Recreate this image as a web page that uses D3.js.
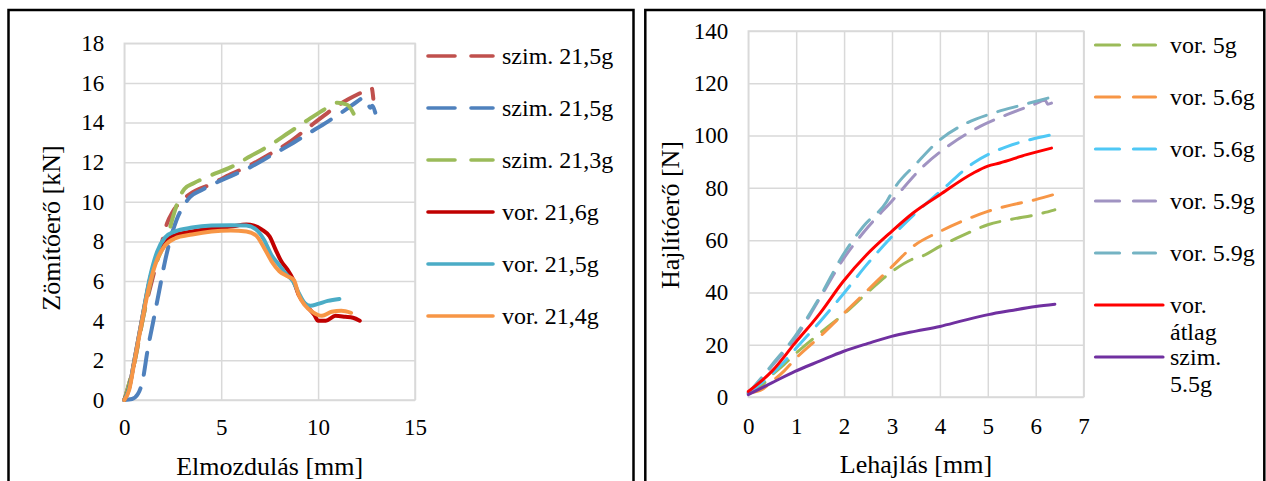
<!DOCTYPE html>
<meta charset="utf-8">
<script src="https://d3js.org/d3.v7.min.js"></script>
<style>
body { margin: 0; background: #fff; }
text { font-family: "Liberation Serif", "Times New Roman", serif; fill: #000; }
.tick text { font-size: 23px; }
.tick line { stroke: #d9d9d9; stroke-width: 1.5; }
.keret { fill: none; stroke: #000; stroke-width: 2.5; }
.plotbox { fill: none; stroke: #d9d9d9; stroke-width: 1.5; }
</style>
<body>
<svg id="canvas" width="1266" height="481" font-family="Liberation Serif"></svg>
<script>
// ---- bal oldali diagram: zomitoero ----------------------------------
var szimPiros = [[0,0],[0.5,1.8],[1.0,4.3],[1.5,6.3],[1.9,7.8],[2.2,8.9],[2.5,9.5],[2.9,10.0],[3.4,10.4],[4.5,10.9],[5.5,11.4],[6.5,11.85],[7.5,12.4],[8.5,13.0],[9.5,13.75],[10.3,14.35],[11.0,14.85],[11.6,15.2],[12.2,15.5],[12.76,15.75],[12.85,15.2]];
var szimKek = [[0,0],[0.4,0.05],[0.7,0.3],[0.95,1.0],[1.2,2.5],[1.5,4.0],[1.8,5.5],[2.1,7.0],[2.4,8.2],[2.7,9.1],[3.0,9.7],[3.4,10.25],[4.0,10.6],[4.7,10.95],[5.5,11.3],[6.5,11.75],[7.5,12.3],[8.5,12.85],[9.5,13.45],[10.5,14.05],[11.5,14.7],[12.0,15.05],[12.35,15.25],[12.55,15.0],[12.7,14.75],[12.8,14.85],[12.95,14.5]];
var szimZold = [[0,0],[0.5,1.8],[1.0,4.3],[1.5,6.5],[1.9,7.5],[2.2,8.1],[2.5,9.2],[2.8,10.1],[3.1,10.65],[3.6,10.95],[4.5,11.35],[5.5,11.75],[6.5,12.3],[7.5,12.85],[8.5,13.5],[9.5,14.15],[10.3,14.65],[11.0,15.0],[11.5,14.9],[11.75,14.6],[11.95,14.2]];
var vor216 = [[0,0],[0.25,0.6],[0.5,1.9],[0.9,4],[1.3,6],[1.7,7.3],[2.1,8.0],[2.6,8.3],[3.5,8.5],[4.5,8.65],[5.5,8.75],[6.3,8.85],[6.7,8.8],[7.1,8.6],[7.5,8.25],[7.8,7.6],[8.1,7.0],[8.4,6.6],[8.7,6.1],[9.0,5.3],[9.4,4.75],[9.8,4.3],[10.0,4.0],[10.4,4.0],[10.9,4.25],[11.4,4.2],[11.8,4.15],[12.15,4.0]];
var vor215 = [[0,0],[0.25,0.6],[0.5,1.9],[0.9,4],[1.3,6.1],[1.7,7.5],[2.1,8.2],[2.6,8.5],[3.5,8.7],[4.5,8.8],[5.5,8.82],[6.3,8.8],[6.8,8.6],[7.2,8.1],[7.6,7.3],[8.0,6.8],[8.4,6.3],[8.7,6.0],[9.0,5.4],[9.3,4.9],[9.6,4.75],[10.0,4.85],[10.5,5.0],[11.1,5.1]];
var vor214 = [[0,0],[0.25,0.5],[0.5,1.8],[0.9,3.9],[1.3,5.8],[1.7,7.1],[2.1,7.8],[2.6,8.15],[3.5,8.35],[4.5,8.5],[5.5,8.55],[6.3,8.5],[6.8,8.3],[7.2,7.7],[7.6,7.0],[8.0,6.5],[8.4,6.25],[8.75,6.05],[9.0,5.3],[9.3,4.8],[9.7,4.45],[10.2,4.25],[10.7,4.45],[11.2,4.5],[11.7,4.4]];
var balNevek = ["szim. 21,5g", "szim. 21,5g", "szim. 21,3g", "vor. 21,6g", "vor. 21,5g", "vor. 21,4g"];
var balXTicks = [0, 5, 10, 15];
var balYTicks = [0, 2, 4, 6, 8, 10, 12, 14, 16, 18];

// ---- jobb oldali diagram: hajlitoero --------------------------------
var vor5 = [[0,1.5],[0.25,4],[0.5,8.5],[0.75,12.5],[1.0,16.8],[1.5,24.5],[2.0,31.8],[2.5,40.2],[3.0,48],[3.4,52.5],[3.65,54],[4.0,57.6],[4.5,62],[5.0,65.9],[5.5,68],[6.0,69.7],[6.4,71.6]];
var vor56a = [[0,1.5],[0.25,2.5],[0.5,6],[0.75,10],[1.0,14.9],[1.5,23.2],[2.0,32.1],[2.5,41],[3.0,49.9],[3.44,57.6],[4.0,63.3],[4.5,67.5],[5.0,71],[5.5,73.5],[6.0,75.5],[6.37,77.4]];
var vor56b = [[0,1.5],[0.25,5],[0.5,9],[0.75,13.5],[1.0,18.7],[1.5,28.9],[2.0,39.8],[2.5,51.2],[3.0,61.4],[3.5,70.5],[4.0,78.5],[4.7,89.5],[5.4,95.8],[5.9,98.5],[6.33,100.3]];
var vor59a = [[0,1.5],[0.25,6.5],[0.5,12],[1.0,23],[1.5,38],[2.0,53.2],[2.5,65],[3.0,75],[3.65,88.2],[4.21,96.5],[4.84,103.5],[5.4,108],[5.95,111.8],[6.2,113.5],[6.25,112],[6.33,112.4]];
var vor59b = [[0,1.5],[0.24,6.6],[0.5,12.5],[0.975,23.2],[1.5,38.5],[1.98,54.4],[2.4,65.2],[2.89,74.8],[3.03,79.3],[3.52,89.5],[4.0,98.4],[4.56,104.8],[5.11,108.6],[5.74,111.8],[6.37,114.9]];
var vorAtlag = [[0,2.1],[0.49,9.8],[0.975,20.6],[1.5,32.1],[1.98,44.2],[2.47,54.4],[2.99,63.3],[3.44,70.4],[4.0,77.4],[4.7,85.7],[5.0,88.3],[5.25,89.5],[5.81,92.7],[6.33,95.2]];
var szim55 = [[0,0.9],[0.5,5.5],[0.975,9.8],[1.5,13.8],[1.98,17.4],[2.5,20.5],[2.99,23.2],[3.5,25.2],[4.0,27],[4.5,29.3],[5.01,31.5],[5.5,33.1],[6.0,34.6],[6.4,35.5]];
var jobbNevek = [["vor. 5g"], ["vor. 5.6g"], ["vor. 5.6g"], ["vor. 5.9g"], ["vor. 5.9g"], ["vor.", "átlag"], ["szim.", "5.5g"]];
var jobbXTicks = [0, 1, 2, 3, 4, 5, 6, 7];
var jobbYTicks = [0, 20, 40, 60, 80, 100, 120, 140];

var svg = d3.select("#canvas");

// keretek
svg.append("rect").attr("class", "keret").attr("x", 8.5).attr("y", 10).attr("width", 625).attr("height", 490);
svg.append("rect").attr("class", "keret").attr("x", 645.3).attr("y", 10).attr("width", 619).attr("height", 490);

function panel(cfg) {
    var x = d3.scaleLinear().domain(cfg.xDom).range([cfg.left, cfg.right]);
    var y = d3.scaleLinear().domain(cfg.yDom).range([cfg.bottom, cfg.top]);
    var w = cfg.right - cfg.left, h = cfg.bottom - cfg.top;

    // racs + tengelyek
    var gx = svg.append("g").attr("transform", "translate(0," + cfg.bottom + ")")
        .call(d3.axisBottom(x).tickValues(cfg.xTicks).tickFormat(d3.format("d"))
            .tickSize(-h).tickSizeOuter(0).tickPadding(cfg.xPad));
    var gy = svg.append("g").attr("transform", "translate(" + cfg.left + ",0)")
        .call(d3.axisLeft(y).tickValues(cfg.yTicks).tickFormat(d3.format("d"))
            .tickSize(-w).tickSizeOuter(0).tickPadding(20));
    gx.select(".domain").remove();
    gy.select(".domain").remove();
    gx.attr("font-family", null);
    gy.attr("font-family", null);
    svg.selectAll(".tick text").attr("fill", "#000");
    svg.append("rect").attr("class", "plotbox")
        .attr("x", cfg.left).attr("y", cfg.top).attr("width", w).attr("height", h);

    // vonalak
    var line = d3.line()
        .x(function(d) { return x(d[0]); })
        .y(function(d) { return y(d[1]); })
        .curve(d3.curveMonotoneX);
    cfg.series.forEach(function(s) {
        svg.append("path")
            .attr("d", line(s.data))
            .attr("fill", "none")
            .attr("stroke", s.color)
            .attr("stroke-width", cfg.lw)
            .attr("stroke-linecap", "round")
            .attr("stroke-linejoin", "round")
            .attr("stroke-dasharray", s.dash ? cfg.dash : null);
    });

    // tengelycimek
    svg.append("text").attr("x", (cfg.left + cfg.right) / 2).attr("y", cfg.xTitleY)
        .attr("text-anchor", "middle").style("font-size", "26px").text(cfg.xTitle);
    svg.append("text")
        .attr("transform", "translate(" + cfg.yTitleX + "," + cfg.yTitleCy + ") rotate(-90)")
        .attr("text-anchor", "middle").style("font-size", "26px").text(cfg.yTitle);

    // jelmagyarazat
    cfg.series.forEach(function(s, i) {
        var ly = cfg.legY + i * 52;
        svg.append("line")
            .attr("x1", cfg.legX1).attr("x2", s.dash ? cfg.legX2 : cfg.legX2s)
            .attr("y1", ly).attr("y2", ly)
            .attr("stroke", s.color)
            .attr("stroke-width", cfg.legW)
            .attr("stroke-linecap", "round")
            .attr("stroke-dasharray", s.dash ? cfg.legDash : null);
        var t = svg.append("text").attr("x", cfg.legText).attr("y", ly)
            .style("font-size", "24px");
        [].concat(s.name).forEach(function(sor, j) {
            t.append("tspan").attr("x", cfg.legText).attr("dy", j === 0 ? "0.34em" : "27px").text(sor);
        });
    });
}

panel({
    xDom: [0, 15], yDom: [0, 18],
    left: 124.3, right: 415, top: 43.3, bottom: 400,
    xTicks: balXTicks, yTicks: balYTicks, xPad: 19,
    lw: 4, dash: "22,14",
    xTitle: "Elmozdulás [mm]", xTitleY: 475,
    yTitle: "Zömítőerő [kN]", yTitleX: 60, yTitleCy: 228,
    legX1: 428, legX2: 493, legX2s: 493, legY: 56, legText: 502, legW: 3.6, legDash: "27,16",
    series: [
        { name: balNevek[0], data: szimPiros, color: "#C0504D", dash: true },
        { name: balNevek[1], data: szimKek, color: "#4F81BD", dash: true },
        { name: balNevek[2], data: szimZold, color: "#9BBB59", dash: true },
        { name: balNevek[3], data: vor216, color: "#C00000", dash: false },
        { name: balNevek[4], data: vor215, color: "#4BACC6", dash: false },
        { name: balNevek[5], data: vor214, color: "#F79646", dash: false }
    ]
});

panel({
    xDom: [0, 7], yDom: [0, 140],
    left: 748.3, right: 1083.6, top: 31, bottom: 397,
    xTicks: jobbXTicks, yTicks: jobbYTicks, xPad: 21,
    lw: 3, dash: "20,12",
    xTitle: "Lehajlás [mm]", xTitleY: 473,
    yTitle: "Hajlítóerő [N]", yTitleX: 679, yTitleCy: 215,
    legX1: 1095.5, legX2: 1155.5, legX2s: 1163, legY: 45, legText: 1170, legW: 3.2, legDash: "24,14",
    series: [
        { name: jobbNevek[0], data: vor5, color: "#9BBB59", dash: true },
        { name: jobbNevek[1], data: vor56a, color: "#F79646", dash: true },
        { name: jobbNevek[2], data: vor56b, color: "#4FC8F5", dash: true },
        { name: jobbNevek[3], data: vor59a, color: "#A093C2", dash: true },
        { name: jobbNevek[4], data: vor59b, color: "#74B3C3", dash: true },
        { name: jobbNevek[5], data: vorAtlag, color: "#FF0000", dash: false },
        { name: jobbNevek[6], data: szim55, color: "#7030A0", dash: false }
    ]
});
</script>
</body>
